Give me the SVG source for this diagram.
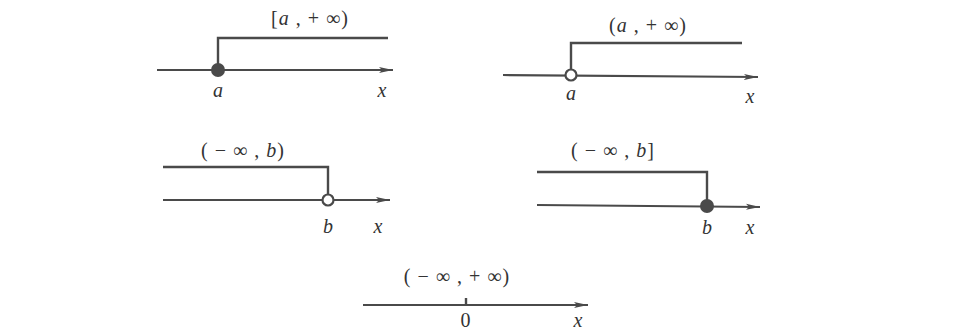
<svg xmlns="http://www.w3.org/2000/svg" width="957" height="331" viewBox="0 0 957 331">
  <style>
    .ln { stroke: #4a4a4a; stroke-width: 2.4; fill: none; }
    .ax { stroke: #4a4a4a; stroke-width: 2.2; fill: none; marker-end: url(#arr); }
    .dot { fill: #4a4a4a; }
    .ring { fill: #ffffff; stroke: #4a4a4a; stroke-width: 2.2; }
    .lbl { font-family: "Liberation Serif", "DejaVu Serif", serif; font-size: 20px; fill: #333; text-anchor: middle; letter-spacing: 1px; }
    .var { font-family: "Liberation Serif", "DejaVu Serif", serif; font-style: italic; font-size: 20px; fill: #333; text-anchor: middle; }
  </style>
  <defs>
    <marker id="arr" markerUnits="userSpaceOnUse" markerWidth="16" markerHeight="10" refX="14" refY="5" orient="auto">
      <path d="M0,2 L14,5 L0,8 L3,5 Z" fill="#4a4a4a"/>
    </marker>
  </defs>
  <rect width="957" height="331" fill="#ffffff"/>

  <g id="interval-a-closed">
    <text class="lbl" x="310" y="25" xml:space="preserve">[<tspan font-style="italic">a</tspan> , + ∞)</text>
    <path class="ln" d="M218,70 V38 H388"/>
    <line class="ax" x1="157" y1="70" x2="393" y2="70"/>
    <circle class="dot" cx="218" cy="70" r="7"/>
    <text class="var" x="218" y="97">a</text>
    <text class="var" x="382" y="97">x</text>
  </g>

  <g id="interval-a-open">
    <text class="lbl" x="648" y="32" xml:space="preserve">(<tspan font-style="italic">a</tspan> , + ∞)</text>
    <path class="ln" d="M571,69.5 V43 H742"/>
    <line class="ax" x1="503" y1="75" x2="758" y2="77"/>
    <circle class="ring" cx="571" cy="75" r="5.5"/>
    <text class="var" x="571" y="100">a</text>
    <text class="var" x="750" y="103">x</text>
  </g>

  <g id="interval-b-open">
    <text class="lbl" x="243" y="157" xml:space="preserve">( − ∞ , <tspan font-style="italic">b</tspan>)</text>
    <path class="ln" d="M163,167 H328 V194.5"/>
    <line class="ax" x1="163" y1="200" x2="390" y2="200"/>
    <circle class="ring" cx="328" cy="200" r="5.5"/>
    <text class="var" x="328" y="233">b</text>
    <text class="var" x="378" y="233">x</text>
  </g>

  <g id="interval-b-closed">
    <text class="lbl" x="613" y="157" xml:space="preserve">( − ∞ , <tspan font-style="italic">b</tspan>]</text>
    <path class="ln" d="M537,172 H707 V205"/>
    <line class="ax" x1="537" y1="205" x2="760" y2="207"/>
    <circle class="dot" cx="707" cy="206" r="7"/>
    <text class="var" x="707" y="234">b</text>
    <text class="var" x="750" y="234">x</text>
  </g>

  <g id="interval-all">
    <text class="lbl" x="457" y="283" xml:space="preserve">( − ∞ , + ∞)</text>
    <line class="ax" x1="363" y1="305" x2="588" y2="305"/>
    <line class="ln" x1="466" y1="298" x2="466" y2="305"/>
    <text class="lbl" x="466" y="327">0</text>
    <text class="var" x="578" y="327">x</text>
  </g>
</svg>
